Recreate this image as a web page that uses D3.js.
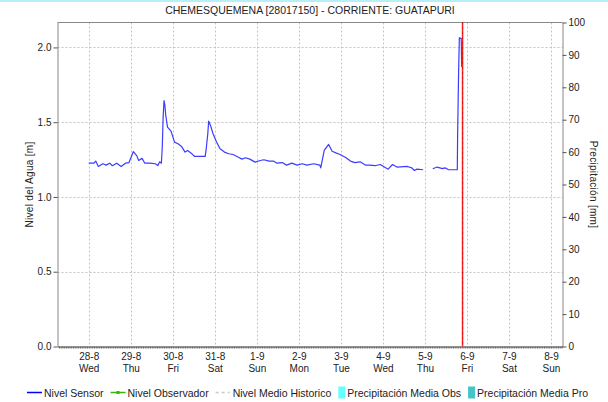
<!DOCTYPE html>
<html>
<head>
<meta charset="utf-8">
<script src="https://cdn.jsdelivr.net/npm/d3@7/dist/d3.min.js"></script>
<style>
  html, body { margin: 0; padding: 0; background: #fff; }
  svg { display: block; font-family: "Liberation Sans", Arial, sans-serif; }
</style>
</head>
<body>
<svg id="chart" width="608" height="402"></svg>
<script>
// ---------- DATA ----------
const chartTitle = "CHEMESQUEMENA [28017150] - CORRIENTE: GUATAPURI";
const leftAxisTitle = "Nivel del Agua [m]";
const rightAxisTitle = "Precipitación [mm]";
const timeDomain = ["2024-08-27 06:10", "2024-09-08 06:35"];
const nowMarker = "2024-09-05 21:30";
const levelTicks = [0, 0.5, 1.0, 1.5, 2.0];
const levelMax = 2.1667;
const precipTicks = [0, 10, 20, 30, 40, 50, 60, 70, 80, 90, 100];
const precipMax = 100;
const dayTicks = ["2024-08-28","2024-08-29","2024-08-30","2024-08-31","2024-09-01","2024-09-02",
                  "2024-09-03","2024-09-04","2024-09-05","2024-09-06","2024-09-07","2024-09-08"];
const weekdayLabels = ["Wed","Thu","Fri","Sat","Sun","Mon","Tue","Wed","Thu","Fri","Sat","Sun"];

const sensorTimes = [
  "2024-08-28 00:00","2024-08-28 03:00","2024-08-28 04:00","2024-08-28 05:30","2024-08-28 08:00",
  "2024-08-28 10:00","2024-08-28 12:00","2024-08-28 13:30","2024-08-28 16:00","2024-08-28 18:30",
  "2024-08-28 21:00","2024-08-28 23:00",
  "2024-08-29 01:30","2024-08-29 03:30","2024-08-29 04:30","2024-08-29 06:30","2024-08-29 08:00",
  "2024-08-29 11:00","2024-08-29 14:00","2024-08-29 15:30","2024-08-29 16:30","2024-08-29 17:30",
  "2024-08-29 18:00","2024-08-29 18:30","2024-08-29 19:00","2024-08-29 19:30","2024-08-29 20:00",
  "2024-08-29 21:00","2024-08-29 23:00",
  "2024-08-30 01:00","2024-08-30 03:00","2024-08-30 05:00","2024-08-30 07:00","2024-08-30 08:30",
  "2024-08-30 10:30","2024-08-30 12:30","2024-08-30 18:30","2024-08-30 19:00","2024-08-30 20:00",
  "2024-08-30 20:30","2024-08-30 21:30","2024-08-30 23:00",
  "2024-08-31 01:00","2024-08-31 03:00","2024-08-31 05:30","2024-08-31 08:00","2024-08-31 10:30",
  "2024-08-31 13:30","2024-08-31 15:30","2024-08-31 17:30","2024-08-31 20:00","2024-08-31 23:00",
  "2024-09-01 02:00","2024-09-01 04:00","2024-09-01 07:00","2024-09-01 09:30","2024-09-01 11:30",
  "2024-09-01 14:30","2024-09-01 17:00","2024-09-01 20:00","2024-09-01 23:00",
  "2024-09-02 02:00","2024-09-02 04:30","2024-09-02 08:30","2024-09-02 12:00","2024-09-02 12:30",
  "2024-09-02 14:30","2024-09-02 17:00","2024-09-02 19:00","2024-09-02 21:30","2024-09-02 23:30",
  "2024-09-03 02:30","2024-09-03 05:30","2024-09-03 08:00","2024-09-03 11:00","2024-09-03 14:00",
  "2024-09-03 16:30","2024-09-03 19:30","2024-09-03 22:30",
  "2024-09-04 03:00","2024-09-04 05:30","2024-09-04 08:00","2024-09-04 14:00","2024-09-04 16:30",
  "2024-09-04 18:00","2024-09-04 19:30","2024-09-04 23:00",
  "2024-09-05 02:00",
  "2024-09-05 04:30","2024-09-05 07:00","2024-09-05 10:00","2024-09-05 11:30","2024-09-05 13:30",
  "2024-09-05 18:30","2024-09-05 18:40","2024-09-05 19:15","2024-09-05 19:40","2024-09-05 20:45",
  "2024-09-05 21:00"
];
const sensorValues = [
  1.226,1.226,1.240,1.204,1.222,
  1.213,1.226,1.209,1.226,1.204,
  1.226,1.230,
  1.304,1.275,1.244,1.258,1.226,
  1.226,1.222,1.210,1.235,1.226,
  1.333,1.534,1.645,1.612,1.545,
  1.467,1.440,
  1.367,1.356,1.338,1.300,1.311,
  1.293,1.271,1.271,1.311,1.423,
  1.507,1.480,1.423,
  1.367,1.322,1.300,1.289,1.284,
  1.266,1.253,1.262,1.253,1.233,
  1.244,1.249,1.240,1.240,1.226,
  1.230,1.213,1.226,1.213,
  1.222,1.213,1.222,1.213,1.195,
  1.311,1.351,1.306,1.293,1.284,
  1.266,1.240,1.230,1.235,1.213,
  1.213,1.209,1.217,
  1.186,1.217,1.200,1.204,1.195,
  1.177,1.186,1.182,
  null,
  1.189,1.200,1.190,1.195,1.182,
  1.182,1.400,1.835,2.065,2.060,
  1.870
];

const legendItems = [
  {label: "Nivel Sensor", type: "line", color: "#0000ff"},
  {label: "Nivel Observador", type: "marker", color: "#33bb00"},
  {label: "Nivel Medio Historico", type: "dash", color: "#c8c8c8"},
  {label: "Precipitación Media Obs", type: "box", color: "#66ffff"},
  {label: "Precipitación Media Pro", type: "box", color: "#44c4c4"}
];

// ---------- CHART ----------
const parse = d3.timeParse("%Y-%m-%d %H:%M");
const parseDay = d3.timeParse("%Y-%m-%d");
const svg = d3.select("#chart");
const W = 608, H = 402;
const m = {left: 57.5, right: W - 562.5, top: 22.5, bottom: H - 346.5};
const pl = m.left, pr = W - m.right, pt = m.top, pb = H - m.bottom;

const x = d3.scaleTime().domain(timeDomain.map(parse)).range([pl, pr]);
const yL = d3.scaleLinear().domain([0, levelMax]).range([pb, pt]);
const yR = d3.scaleLinear().domain([0, precipMax]).range([pb, pt]);

// top light band
svg.append("rect").attr("x", 0).attr("y", 0).attr("width", W).attr("height", 2).attr("fill", "#b8eef8");

const days = dayTicks.map(parseDay);

// grid
const grid = svg.append("g").attr("stroke", "#c4c4c4").attr("stroke-width", 1).attr("stroke-dasharray", "2,2");
grid.selectAll("line.v").data(days).join("line")
  .attr("x1", d => Math.round(x(d)) + 0.5).attr("x2", d => Math.round(x(d)) + 0.5)
  .attr("y1", pt).attr("y2", pb);
grid.selectAll("line.h").data(levelTicks.filter(d => d > 0)).join("line")
  .attr("x1", pl).attr("x2", pr)
  .attr("y1", d => Math.round(yL(d)) + 0.5).attr("y2", d => Math.round(yL(d)) + 0.5);

// frame
svg.append("line").attr("x1", pl).attr("x2", pr).attr("y1", pt).attr("y2", pt).attr("stroke", "#888");

// left axis
const gL = svg.append("g").attr("transform", `translate(${pl},0)`)
  .call(d3.axisLeft(yL).tickValues(levelTicks).tickFormat(d3.format(".1f")).tickSize(4).tickSizeOuter(0).tickPadding(2));
gL.select(".domain").attr("stroke", "#888");
gL.selectAll(".tick line").attr("stroke", "#555");
gL.selectAll(".tick text").attr("fill", "#222").style("font-size", "10px").style("font-family", "'Liberation Sans', Arial, sans-serif");

// right axis
const gR = svg.append("g").attr("transform", `translate(${pr},0)`)
  .call(d3.axisRight(yR).tickValues(precipTicks).tickSize(4).tickSizeOuter(0).tickPadding(2));
gR.select(".domain").attr("stroke", "#888");
gR.selectAll(".tick line").attr("stroke", "#555");
gR.selectAll(".tick text").attr("fill", "#222").style("font-size", "10px").style("font-family", "'Liberation Sans', Arial, sans-serif");

// bottom axis (hourly minor ticks)
const gB = svg.append("g").attr("transform", `translate(0,${pb})`)
  .call(d3.axisBottom(x).ticks(d3.timeHour.every(1)).tickFormat("").tickSize(2).tickSizeOuter(0));
gB.select(".domain").attr("stroke", "#444");
gB.selectAll(".tick line").attr("stroke", "#666");

// day labels
const dl = svg.append("g").attr("fill", "#222").style("font-size", "10px").attr("text-anchor", "middle");
dl.selectAll("text.d").data(days).join("text")
  .attr("x", d => x(d) + 0.5).attr("y", 359.5)
  .text(d => d3.timeFormat("%-d-%-m")(d));
dl.selectAll("text.w").data(days).join("text")
  .attr("x", d => x(d) + 0.5).attr("y", 371.5)
  .text((d, i) => weekdayLabels[i]);

// sensor line
const sensor = sensorTimes.map((t, i) => ({t: parse(t), v: sensorValues[i]}));
const line = d3.line().defined(d => d.v != null).x(d => x(d.t)).y(d => yL(d.v));
svg.append("path").datum(sensor).attr("d", line)
  .attr("fill", "none").attr("stroke", "#3c3cff").attr("stroke-width", 1.2).attr("stroke-linejoin", "round");

// now marker
const nx = x(parse(nowMarker));
svg.append("line").attr("x1", nx).attr("x2", nx).attr("y1", pt).attr("y2", pb)
  .attr("stroke", "#ff2020").attr("stroke-width", 1.5);
svg.append("line").attr("x1", nx).attr("x2", nx).attr("y1", pt).attr("y2", pb)
  .attr("stroke", "#b00000").attr("stroke-width", 1).attr("stroke-dasharray", "1,4");

// title
svg.append("text").attr("x", (pl + pr) / 2).attr("y", 14).attr("text-anchor", "middle")
  .attr("fill", "#222").style("font-size", "10.5px").text(chartTitle);

// axis titles
svg.append("text").attr("transform", `translate(33,${(pt + pb) / 2}) rotate(-90)`)
  .attr("text-anchor", "middle").attr("fill", "#222").style("font-size", "10px").style("letter-spacing", "0.3px").text(leftAxisTitle);
svg.append("text").attr("transform", `translate(590,${(pt + pb) / 2}) rotate(90)`)
  .attr("text-anchor", "middle").attr("fill", "#222").style("font-size", "10px").style("letter-spacing", "0.3px").text(rightAxisTitle);

// legend
const legend = svg.append("g").attr("transform", "translate(0,392.5)");
let lx = 27;
legendItems.forEach(item => {
  const g = legend.append("g").attr("transform", `translate(${lx},0)`);
  let sw = 15;
  if (item.type === "line") {
    g.append("line").attr("x1", 0).attr("x2", 15).attr("stroke", item.color).attr("stroke-width", 1.5);
  } else if (item.type === "marker") {
    g.append("line").attr("x1", 0).attr("x2", 15).attr("stroke", item.color).attr("stroke-width", 1.5);
    g.append("rect").attr("x", 6).attr("y", -1.5).attr("width", 3).attr("height", 3).attr("fill", item.color);
  } else if (item.type === "dash") {
    g.append("line").attr("x1", 0).attr("x2", 14).attr("stroke", item.color).attr("stroke-width", 1.5).attr("stroke-dasharray", "3,3");
  } else {
    sw = 7;
    g.append("rect").attr("x", 0).attr("y", -6).attr("width", 7).attr("height", 12).attr("fill", item.color);
  }
  const t = g.append("text").attr("x", sw + 2).attr("y", 4).attr("fill", "#222").style("font-size", "10.5px").text(item.label);
  lx += sw + 2 + t.node().getComputedTextLength() + 7;
});
</script>
</body>
</html>
